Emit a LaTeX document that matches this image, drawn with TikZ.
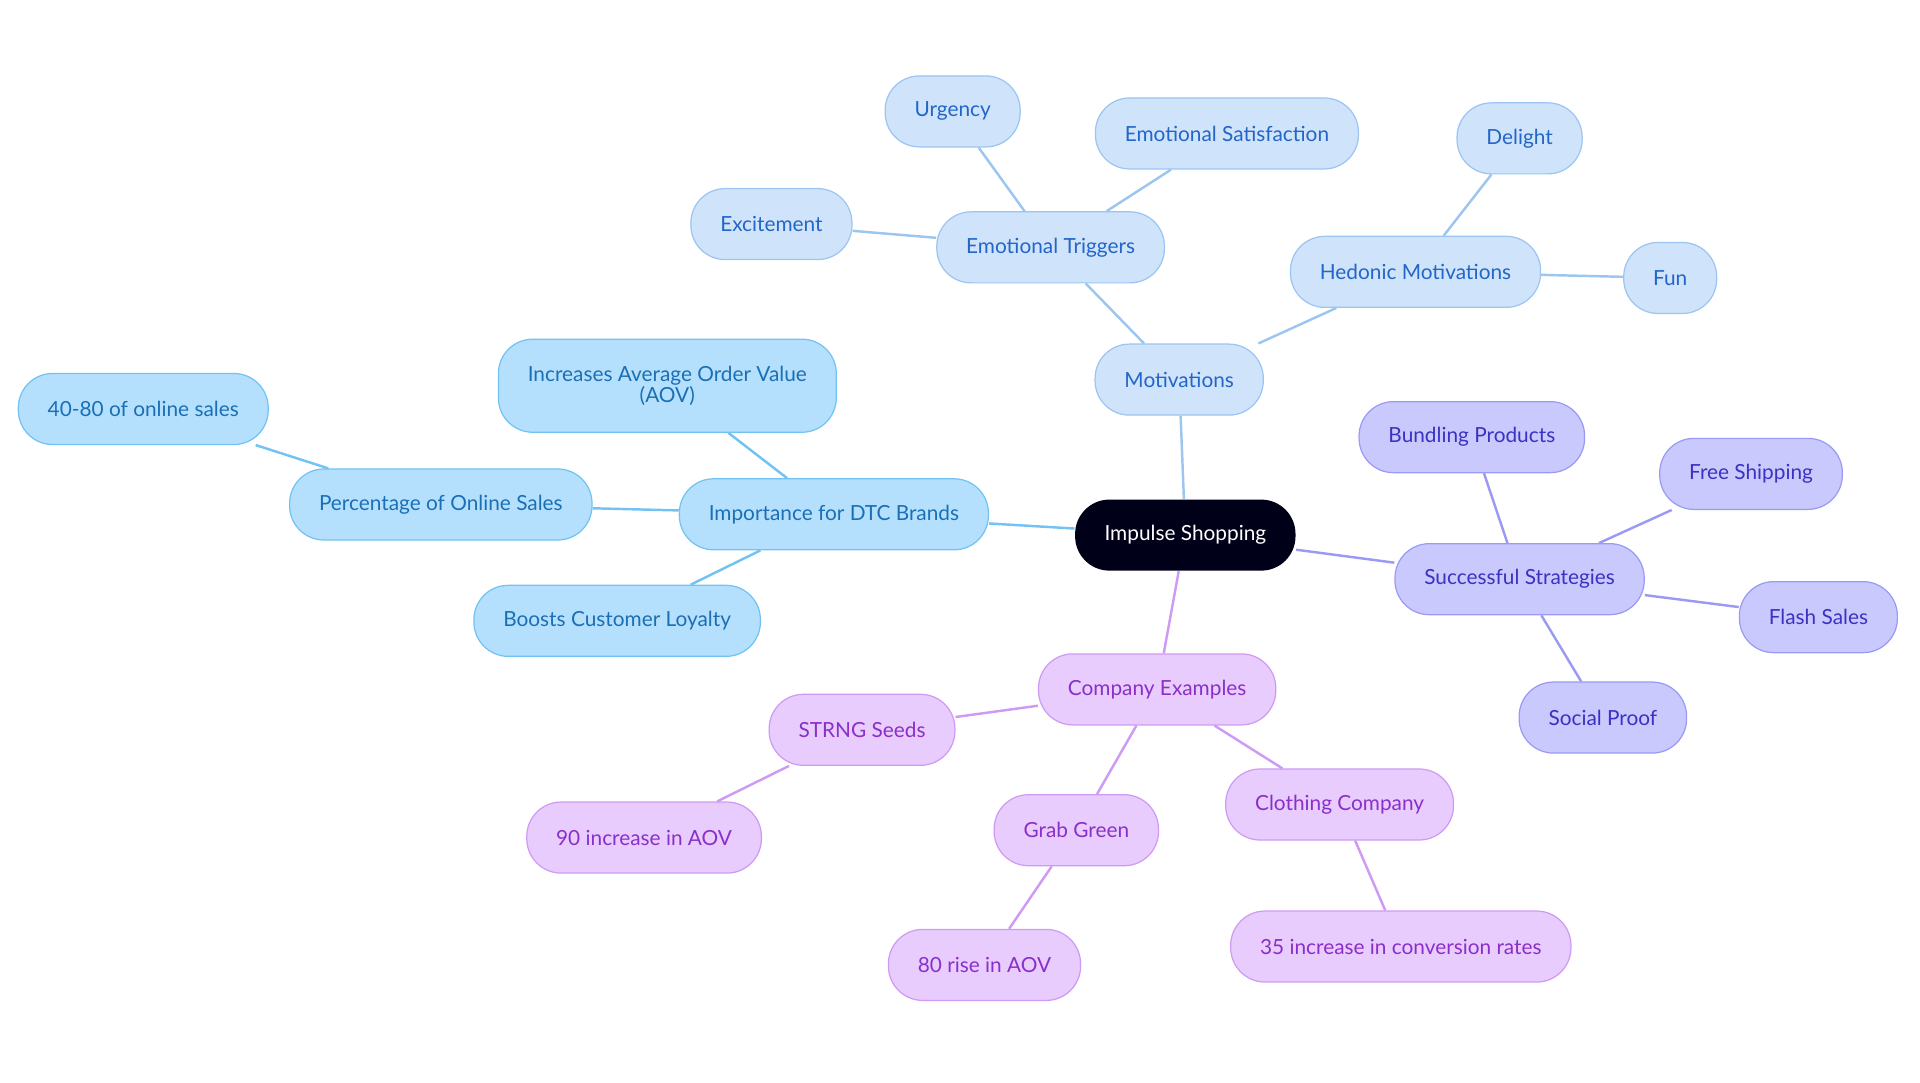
\documentclass[tikz,border=0pt]{standalone}
\usepackage{fontspec}
\setmainfont{Lato}
\definecolor{cblue}{HTML}{B5E0FD}\definecolor{dblue}{HTML}{72C2F2}\definecolor{tblue}{HTML}{1A6FB5}
\definecolor{clite}{HTML}{CFE3FB}\definecolor{dlite}{HTML}{9CC5F0}\definecolor{tlite}{HTML}{2266C8}
\definecolor{cviol}{HTML}{C9C9FD}\definecolor{dviol}{HTML}{9A9AF5}\definecolor{tviol}{HTML}{3B32C2}
\definecolor{cpurp}{HTML}{E8CCFD}\definecolor{dpurp}{HTML}{CF9AF3}\definecolor{tpurp}{HTML}{8A2FC9}
\tikzset{
  box/.style={rounded corners=14pt, minimum height=29pt, inner xsep=12pt, inner ysep=2pt,
    font=\fontsize{8.5}{8.5}\selectfont, align=center, line width=0.5pt},
  root/.style={box, fill=black!90!blue, text=white},
  dtc/.style={box, fill=cblue, draw=dblue, text=tblue},
  mot/.style={box, fill=clite, draw=dlite, text=tlite},
  str/.style={box, fill=cviol, draw=dviol, text=tviol},
  com/.style={box, fill=cpurp, draw=dpurp, text=tpurp},
}
\begin{document}
\begin{tikzpicture}[x=0.5pt,y=-0.5pt]
\useasboundingbox (0,0) rectangle (1568,884);
\node [root] (imp) at (968,437) {Impulse Shopping};
% motivations
\node [mot] (mot) at (963,310) {Motivations};
\node [mot] (emo) at (858,202) {Emotional Triggers};
\node [mot] (urg) at (778,91) {Urgency};
\node [mot] (sat) at (1002,109) {Emotional Satisfaction};
\node [mot] (exc) at (630,183) {Excitement};
\node [mot] (hed) at (1156,222) {Hedonic Motivations};
\node [mot] (del) at (1241,113) {Delight};
\node [mot] (fun) at (1364,227) {Fun};
% dtc brands
\node [dtc] (dtc) at (681,420) {Importance for DTC Brands};
\node [dtc, minimum height=38pt] (aov) at (545,315) {Increases Average Order Value\\(AOV)};
\node [dtc] (pct) at (360,412) {Percentage of Online Sales};
\node [dtc] (onl) at (117,334) {40-80 of online sales};
\node [dtc] (loy) at (504,507) {Boosts Customer Loyalty};
% strategies
\node [str] (suc) at (1241,473) {Successful Strategies};
\node [str] (bun) at (1202,357) {Bundling Products};
\node [str] (shp) at (1430,387) {Free Shipping};
\node [str] (fla) at (1485,504) {Flash Sales};
\node [str] (soc) at (1309,586) {Social Proof};
% companies
\node [com] (cmp) at (945,563) {Company Examples};
\node [com] (stg) at (704,596) {STRNG Seeds};
\node [com] (nin) at (526,684) {90 increase in AOV};
\node [com] (grb) at (879,678) {Grab Green};
\node [com] (eig) at (804,788) {80 rise in AOV};
\node [com] (clo) at (1094,657) {Clothing Company};
\node [com] (thr) at (1144,773) {35 increase in conversion rates};
\draw [dlite, line width=1pt] (imp) -- (mot) (mot) -- (emo) (emo) -- (urg) (emo) -- (sat) (emo) -- (exc)
  (mot) -- (hed) (hed) -- (del) (hed) -- (fun);
\draw [dblue, line width=1pt] (imp) -- (dtc) (dtc) -- (aov) (dtc) -- (pct) (pct) -- (onl) (dtc) -- (loy);
\draw [dviol, line width=1pt] (imp) -- (suc) (suc) -- (bun) (suc) -- (shp) (suc) -- (fla) (suc) -- (soc);
\draw [dpurp, line width=1pt] (imp) -- (cmp) (cmp) -- (stg) (stg) -- (nin) (cmp) -- (grb) (grb) -- (eig)
  (cmp) -- (clo) (clo) -- (thr);
\end{tikzpicture}
\end{document}
